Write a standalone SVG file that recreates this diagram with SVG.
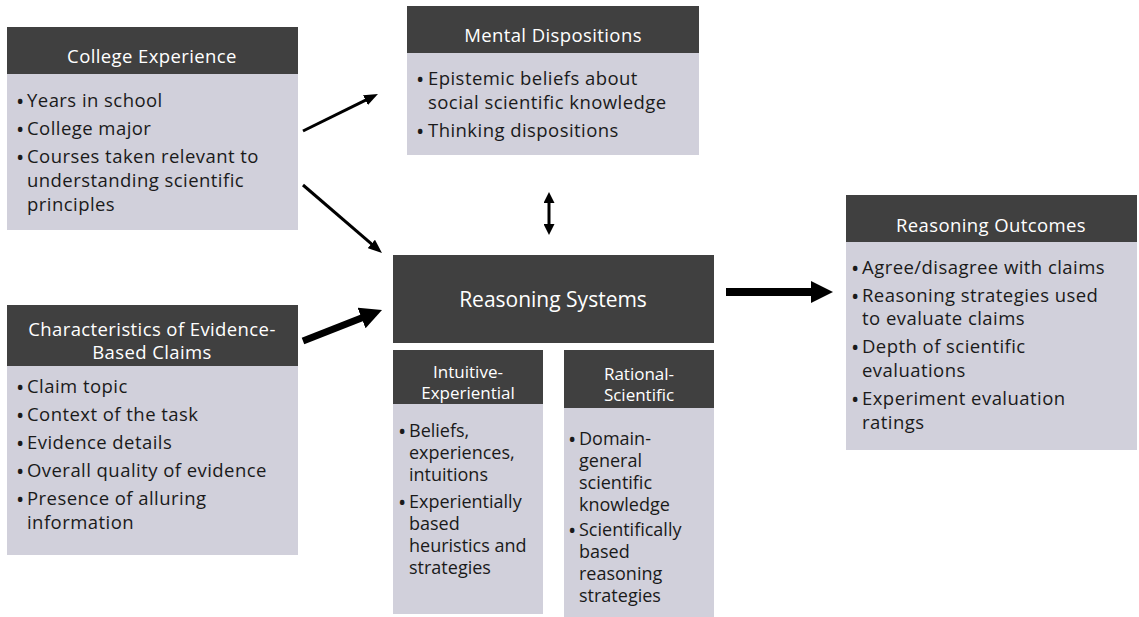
<svg xmlns="http://www.w3.org/2000/svg" width="1139" height="617" viewBox="0 0 1139 617">
<style>
.hd{fill:#404040}
.bd{fill:#d1d0db}
.tt{font-family:"Open Sans","Liberation Sans",sans-serif;font-size:18.5px;letter-spacing:0.4px;fill:#ffffff;text-anchor:middle}
.big{font-size:21px;letter-spacing:0}
.tn{font-family:"Open Sans","Liberation Sans",sans-serif;font-size:17px;fill:#ffffff;text-anchor:middle}
.tx{font-family:"Open Sans","Liberation Sans",sans-serif;font-size:18.5px;letter-spacing:0.45px;fill:#1a1a1a}
.nx{font-family:"Open Sans","Liberation Sans",sans-serif;font-size:18px;fill:#1a1a1a}
.bu{font-size:22px;letter-spacing:0}
.ln{stroke:#000;fill:none}
</style>
<defs>
<marker id="ahs" markerUnits="userSpaceOnUse" markerWidth="14" markerHeight="11" refX="2" refY="5.5" orient="auto"><path d="M0,0 L14,5.5 L0,11 z" fill="#000"/></marker>
<marker id="ahd" markerUnits="userSpaceOnUse" markerWidth="11" markerHeight="11" refX="2" refY="5.5" orient="auto-start-reverse"><path d="M0,0 L11,5.5 L0,11 z" fill="#000"/></marker>
<marker id="ahl" markerUnits="userSpaceOnUse" markerWidth="22" markerHeight="22" refX="2" refY="11" orient="auto"><path d="M0,0 L22,11 L0,22 z" fill="#000"/></marker>
</defs>
<rect width="1139" height="617" fill="#ffffff"/>

<g id="college">
<rect class="hd" x="7" y="27" width="291" height="47"/>
<rect class="bd" x="7" y="74" width="291" height="156"/>
<text class="tt" x="152" y="63">College Experience</text>
<text class="tx"><tspan class="bu" x="16" y="109">•</tspan><tspan x="27" y="107">Years in school</tspan></text>
<text class="tx"><tspan class="bu" x="16" y="137">•</tspan><tspan x="27" y="135">College major</tspan></text>
<text class="tx"><tspan class="bu" x="16" y="165">•</tspan><tspan x="27" y="163">Courses taken relevant to</tspan></text>
<text class="tx" x="27" y="187">understanding scientific</text>
<text class="tx" x="27" y="211">principles</text>
</g>

<g id="mental">
<rect class="hd" x="407" y="6" width="292" height="47"/>
<rect class="bd" x="407" y="53" width="292" height="102"/>
<text class="tt" x="553" y="42">Mental Dispositions</text>
<text class="tx"><tspan class="bu" x="416" y="87">•</tspan><tspan x="428" y="85">Epistemic beliefs about</tspan></text>
<text class="tx" x="428" y="109">social scientific knowledge</text>
<text class="tx"><tspan class="bu" x="416" y="139">•</tspan><tspan x="428" y="137">Thinking dispositions</tspan></text>
</g>

<g id="characteristics">
<rect class="hd" x="7" y="305" width="291" height="61"/>
<rect class="bd" x="7" y="366" width="291" height="189"/>
<text class="tt" x="152" y="336">Characteristics of Evidence-</text>
<text class="tt" x="152" y="359">Based Claims</text>
<text class="tx"><tspan class="bu" x="16" y="395">•</tspan><tspan x="27" y="393">Claim topic</tspan></text>
<text class="tx"><tspan class="bu" x="16" y="423">•</tspan><tspan x="27" y="421">Context of the task</tspan></text>
<text class="tx"><tspan class="bu" x="16" y="451">•</tspan><tspan x="27" y="449">Evidence details</tspan></text>
<text class="tx"><tspan class="bu" x="16" y="479">•</tspan><tspan x="27" y="477">Overall quality of evidence</tspan></text>
<text class="tx"><tspan class="bu" x="16" y="507">•</tspan><tspan x="27" y="505">Presence of alluring</tspan></text>
<text class="tx" x="27" y="529">information</text>
</g>

<g id="reasoning-systems">
<rect class="hd" x="393" y="255" width="321" height="88"/>
<text class="tt big" x="553" y="307">Reasoning Systems</text>
</g>

<g id="intuitive">
<rect class="hd" x="393" y="350" width="150" height="54"/>
<rect class="bd" x="393" y="404" width="150" height="210"/>
<text class="tn" x="468" y="378">Intuitive-</text>
<text class="tn" x="468" y="399">Experiential</text>
<text class="nx"><tspan class="bu" x="398" y="439">•</tspan><tspan x="409" y="437">Beliefs,</tspan></text>
<text class="nx" x="409" y="459">experiences,</text>
<text class="nx" x="409" y="481">intuitions</text>
<text class="nx"><tspan class="bu" x="398" y="510">•</tspan><tspan x="409" y="508">Experientially</tspan></text>
<text class="nx" x="409" y="530">based</text>
<text class="nx" x="409" y="552">heuristics and</text>
<text class="nx" x="409" y="574">strategies</text>
</g>

<g id="rational">
<rect class="hd" x="564" y="350" width="150" height="58"/>
<rect class="bd" x="564" y="408" width="150" height="209"/>
<text class="tn" x="639" y="380">Rational-</text>
<text class="tn" x="639" y="401">Scientific</text>
<text class="nx"><tspan class="bu" x="568" y="447">•</tspan><tspan x="579" y="445">Domain-</tspan></text>
<text class="nx" x="579" y="467">general</text>
<text class="nx" x="579" y="489">scientific</text>
<text class="nx" x="579" y="511">knowledge</text>
<text class="nx"><tspan class="bu" x="568" y="538">•</tspan><tspan x="579" y="536">Scientifically</tspan></text>
<text class="nx" x="579" y="558">based</text>
<text class="nx" x="579" y="580">reasoning</text>
<text class="nx" x="579" y="602">strategies</text>
</g>

<g id="outcomes">
<rect class="hd" x="846" y="195" width="291" height="47"/>
<rect class="bd" x="846" y="242" width="291" height="208"/>
<text class="tt" x="991" y="232">Reasoning Outcomes</text>
<text class="tx"><tspan class="bu" x="851" y="276">•</tspan><tspan x="862" y="274">Agree/disagree with claims</tspan></text>
<text class="tx"><tspan class="bu" x="851" y="304">•</tspan><tspan x="862" y="302">Reasoning strategies used</tspan></text>
<text class="tx" x="862" y="325">to evaluate claims</text>
<text class="tx"><tspan class="bu" x="851" y="355">•</tspan><tspan x="862" y="353">Depth of scientific</tspan></text>
<text class="tx" x="862" y="377">evaluations</text>
<text class="tx"><tspan class="bu" x="851" y="407">•</tspan><tspan x="862" y="405">Experiment evaluation</tspan></text>
<text class="tx" x="862" y="429">ratings</text>
</g>

<g id="connectors">
<line class="ln" x1="303" y1="131" x2="367.2" y2="99.3" stroke-width="3" marker-end="url(#ahs)"/>
<line class="ln" x1="303" y1="185" x2="372.9" y2="245.2" stroke-width="3" marker-end="url(#ahs)"/>
<line class="ln" x1="303" y1="341" x2="363.4" y2="317.3" stroke-width="7" marker-end="url(#ahl)"/>
<line class="ln" x1="726" y1="292" x2="813" y2="292" stroke-width="8" marker-end="url(#ahl)"/>
<line class="ln" x1="549" y1="201" x2="549" y2="226" stroke-width="3" marker-start="url(#ahd)" marker-end="url(#ahd)"/>
</g>
</svg>
